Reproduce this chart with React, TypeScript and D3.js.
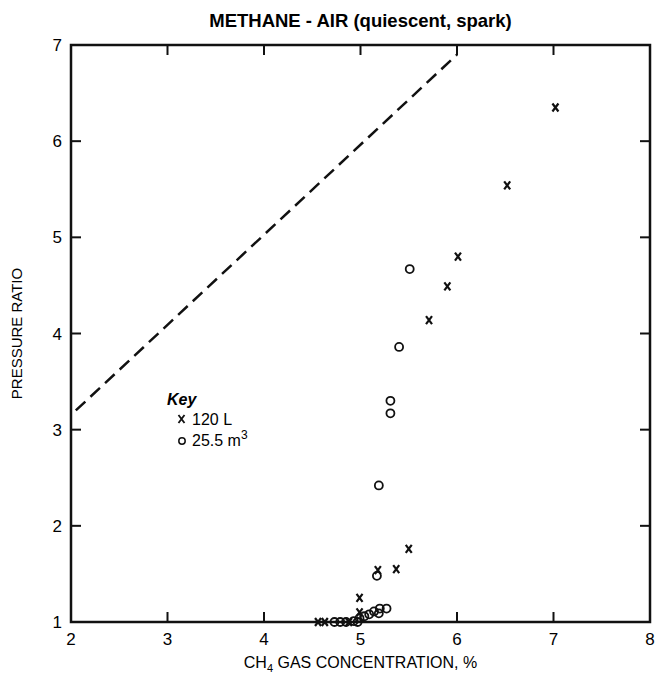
import * as d3 from "d3";
import { useEffect } from "react";

const xTicks = [2, 3, 4, 5, 6, 7, 8];
const yTicks = [1, 2, 3, 4, 5, 6, 7];

// 120 L vessel (x marks)
const vessel120L = [
  [4.56, 1.0], [4.63, 1.0], [4.88, 1.0], [4.99, 1.1], [4.99, 1.25],
  [5.18, 1.54], [5.37, 1.55], [5.5, 1.76], [5.71, 4.14], [5.9, 4.49],
  [6.01, 4.8], [6.52, 5.54], [7.02, 6.35],
];

// 25.5 m3 chamber (circles)
const chamber25m3 = [
  [4.73, 1.0], [4.79, 1.0], [4.85, 1.0], [4.93, 1.01], [4.97, 1.0],
  [4.99, 1.04], [5.04, 1.06], [5.09, 1.08], [5.14, 1.11], [5.19, 1.09],
  [5.2, 1.14], [5.27, 1.14], [5.17, 1.48], [5.19, 2.42], [5.31, 3.17],
  [5.31, 3.3], [5.4, 3.86], [5.51, 4.67],
];

// theoretical adiabatic line (dashed)
const adiabatic = [
  [2.05, 3.2],
  [6.0, 6.9],
];

const W = 661;
const H = 674;
const margin = { top: 45, right: 11, bottom: 52, left: 71 };
const font = "'Liberation Sans', Arial, sans-serif";

export default function App() {
  useEffect(() => {
    document.body.style.margin = "0";
  }, []);

  const x = d3.scaleLinear().domain([2, 8]).range([margin.left, W - margin.right]);
  const y = d3.scaleLinear().domain([1, 7]).range([H - margin.bottom, margin.top]);
  const line = d3
    .line<number[]>()
    .x((d) => x(d[0]))
    .y((d) => y(d[1]));

  const x0 = x(2), x1 = x(8), y0 = y(1), y1 = y(7);
  const tick = 10;

  return (
    <svg width={W} height={H} style={{ display: "block", background: "#fff" }}>
      <text
        x={(x0 + x1) / 2}
        y={27}
        textAnchor="middle"
        fontFamily={font}
        fontWeight="bold"
        fontSize={18.5}
      >
        METHANE - AIR (quiescent, spark)
      </text>

      {/* frame */}
      <rect x={x0} y={y1} width={x1 - x0} height={y0 - y1} fill="none" stroke="#111" strokeWidth={2.5} />

      {xTicks.map((t) => (
        <g key={"x" + t}>
          <line x1={x(t)} x2={x(t)} y1={y0} y2={y0 - tick} stroke="#111" strokeWidth={2} />
          <line x1={x(t)} x2={x(t)} y1={y1} y2={y1 + tick} stroke="#111" strokeWidth={2} />
          <text x={x(t)} y={y0 + 23} textAnchor="middle" fontFamily={font} fontSize={17}>
            {t}
          </text>
        </g>
      ))}
      {yTicks.map((t) => (
        <g key={"y" + t}>
          <line x1={x0} x2={x0 + tick} y1={y(t)} y2={y(t)} stroke="#111" strokeWidth={2} />
          <line x1={x1} x2={x1 - tick} y1={y(t)} y2={y(t)} stroke="#111" strokeWidth={2} />
          <text x={x0 - 9} y={y(t) + 6} textAnchor="end" fontFamily={font} fontSize={17}>
            {t}
          </text>
        </g>
      ))}

      <text
        transform={`translate(22,${(y0 + y1) / 2}) rotate(-90)`}
        textAnchor="middle"
        fontFamily={font}
        fontSize={15}
      >
        PRESSURE RATIO
      </text>
      <text x={(x0 + x1) / 2} y={H - 6} textAnchor="middle" fontFamily={font} fontSize={16}>
        CH<tspan fontSize={11} dy={4}>4</tspan>
        <tspan dy={-4}> GAS CONCENTRATION, %</tspan>
      </text>

      <path
        d={line(adiabatic) ?? ""}
        fill="none"
        stroke="#111"
        strokeWidth={2.5}
        strokeDasharray="13 7"
      />

      {vessel120L.map((d, i) => (
        <g key={"v" + i} transform={`translate(${x(d[0])},${y(d[1])})`}>
          <path d="M-3,-4L3,4M3,-4L-3,4" stroke="#111" strokeWidth={2.2} fill="none" />
        </g>
      ))}
      {chamber25m3.map((d, i) => (
        <circle key={"c" + i} cx={x(d[0])} cy={y(d[1])} r={4} fill="none" stroke="#111" strokeWidth={1.8} />
      ))}

      {/* key */}
      <g fontFamily={font} fontSize={16}>
        <text x={167} y={405} fontStyle="italic" fontWeight="bold">
          Key
        </text>
        <path d="M178.5,415L184.5,423M184.5,415L178.5,423" stroke="#111" strokeWidth={1.8} />
        <text x={192} y={425}>120 L</text>
        <circle cx={182} cy={441} r={3.2} fill="none" stroke="#111" strokeWidth={1.5} />
        <text x={192} y={446}>
          25.5 m<tspan fontSize={12} dy={-7}>3</tspan>
        </text>
      </g>
    </svg>
  );
}
